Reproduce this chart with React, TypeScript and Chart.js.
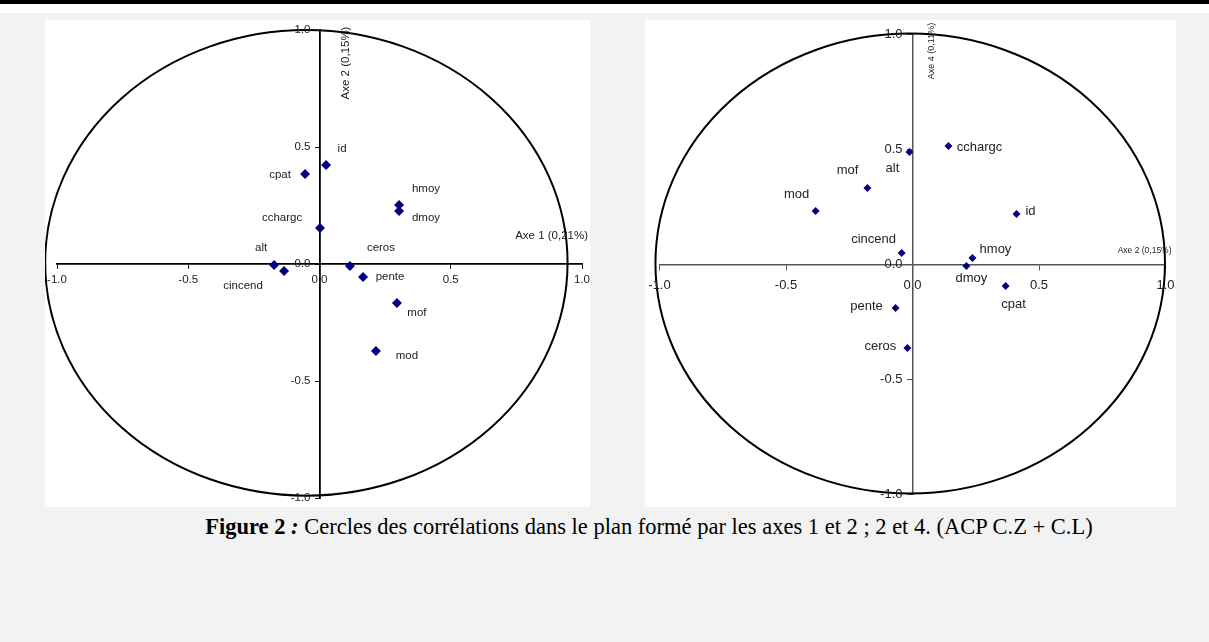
import React, { useEffect, useRef } from "react";
import { Chart, registerables } from "chart.js";

Chart.register(...registerables);

// ---------- data ----------
const TICK_VALUES = [-1, -0.5, 0, 0.5, 1];
const TICK_LABELS = ["-1.0", "-0.5", "0.0", "0.5", "1.0"];

const LEFT_VARIABLES = ["id", "cpat", "hmoy", "dmoy", "cchargc", "alt", "cincend", "ceros", "pente", "mof", "mod"];
const LEFT_AXE1 = [0.025, -0.055, 0.303, 0.303, 0.002, -0.173, -0.135, 0.116, 0.166, 0.295, 0.215];
const LEFT_AXE2 = [0.423, 0.385, 0.252, 0.226, 0.154, -0.004, -0.03, -0.009, -0.056, -0.167, -0.372];
const LEFT_X_TITLE = "Axe 1 (0,21%)";
const LEFT_Y_TITLE = "Axe 2 (0,15%)";

const RIGHT_VARIABLES = ["cchargc", "alt", "mof", "mod", "id", "cincend", "hmoy", "dmoy", "cpat", "pente", "ceros"];
const RIGHT_AXE2 = [0.142, -0.012, -0.178, -0.383, 0.411, -0.043, 0.237, 0.213, 0.368, -0.067, -0.02];
const RIGHT_AXE4 = [0.515, 0.489, 0.333, 0.233, 0.22, 0.05, 0.028, -0.007, -0.093, -0.189, -0.363];
const RIGHT_X_TITLE = "Axe 2 (0,15%)";
const RIGHT_Y_TITLE = "Axe 4 (0,11%)";

const CAPTION_BOLD = "Figure 2";
const CAPTION_REST = " Cercles des corrélations dans le plan formé par les axes 1 et 2 ; 2 et 4. (ACP C.Z + C.L)";

// ---------- layout / style (not data) ----------
const LEFT_LABEL_OFFSETS: Record<string, [number, number]> = {
  id: [16, -16], cpat: [-25, 1], hmoy: [27, -16], dmoy: [27, 7], cchargc: [-38, -10],
  alt: [-13, -17], cincend: [-41, 15], ceros: [31, -18], pente: [27, 0], mof: [20, 10], mod: [31, 5],
};
const RIGHT_LABEL_OFFSETS: Record<string, [number, number]> = {
  cchargc: [31, 1], alt: [-17, 16], mof: [-20, -17], mod: [-19, -16], id: [14, -2],
  cincend: [-28, -14], hmoy: [23, -9], dmoy: [5, 12], cpat: [8, 19], pente: [-29, -2], ceros: [-27, -2],
};

const SANS = "'Liberation Sans', Arial, sans-serif";
const MARKER = "#000080";

type PanelCfg = {
  names: string[]; xs: number[]; ys: number[];
  width: number; height: number;
  padding: { left: number; right: number; top: number; bottom: number };
  axisColor: string; axisWidth: number;
  tickSize: number; tickLength: number; xLabelDy: number; yLabelDx: number;
  pointRadius: number; labelSize: number;
  offsets: Record<string, [number, number]>;
  circle: { cx: number; cy: number; rx: number; ry: number; width: number };
  xTitle: { text: string; size: number; dx: number; dy: number; align: CanvasTextAlign };
  yTitle: { text: string; size: number; dx: number; dy: number };
};

const circlePlugin = {
  id: "corrCircle",
  beforeDatasetsDraw(chart: any, _a: any, o: any) {
    const { ctx } = chart;
    const x = chart.scales.x, y = chart.scales.y;
    const cx = x.getPixelForValue(o.cx), cy = y.getPixelForValue(o.cy);
    const rx = Math.abs(x.getPixelForValue(o.cx + o.rx) - cx);
    const ry = Math.abs(y.getPixelForValue(o.cy + o.ry) - cy);
    ctx.save();
    ctx.beginPath();
    ctx.ellipse(cx, cy, rx, ry, 0, 0, Math.PI * 2);
    ctx.lineWidth = o.width;
    ctx.strokeStyle = "#000";
    ctx.stroke();
    ctx.restore();
  },
};

// tick labels for both axes, drawn beside the axes crossing at the origin
const tickLabelPlugin = {
  id: "tickLabels",
  afterDraw(chart: any, _a: any, o: any) {
    const { ctx } = chart;
    const x = chart.scales.x, y = chart.scales.y;
    const x0 = x.getPixelForValue(0), y0 = y.getPixelForValue(0);
    ctx.save();
    ctx.font = `${o.size}px ${SANS}`;
    ctx.fillStyle = "#222";
    ctx.textBaseline = "middle";
    ctx.textAlign = "center";
    TICK_VALUES.forEach((v, i) => ctx.fillText(TICK_LABELS[i], x.getPixelForValue(v), y0 + o.xDy));
    ctx.textAlign = "right";
    TICK_VALUES.forEach((v, i) => ctx.fillText(TICK_LABELS[i], x0 - o.yDx, y.getPixelForValue(v)));
    ctx.restore();
  },
};

const labelPlugin = {
  id: "pointLabels",
  afterDatasetsDraw(chart: any, _a: any, o: any) {
    const { ctx } = chart;
    const meta = chart.getDatasetMeta(0);
    ctx.save();
    ctx.font = `${o.size}px ${SANS}`;
    ctx.fillStyle = "#222";
    ctx.textAlign = "center";
    ctx.textBaseline = "middle";
    meta.data.forEach((pt: any, i: number) => {
      const name = o.names[i];
      const off = o.offsets[name] || [0, 0];
      ctx.fillText(name, pt.x + off[0], pt.y + off[1]);
    });
    ctx.restore();
  },
};

const titlePlugin = {
  id: "axisTitles",
  afterDraw(chart: any, _a: any, o: any) {
    const { ctx } = chart;
    const x = chart.scales.x, y = chart.scales.y;
    const x0 = x.getPixelForValue(0), x1 = x.getPixelForValue(1);
    const y0 = y.getPixelForValue(0), y1 = y.getPixelForValue(1);
    ctx.save();
    ctx.fillStyle = "#222";
    ctx.textBaseline = "middle";
    ctx.font = `${o.xTitle.size}px ${SANS}`;
    ctx.textAlign = o.xTitle.align;
    ctx.fillText(o.xTitle.text, x1 + o.xTitle.dx, y0 + o.xTitle.dy);
    ctx.translate(x0 + o.yTitle.dx, y1 + o.yTitle.dy);
    ctx.rotate(-Math.PI / 2);
    ctx.font = `${o.yTitle.size}px ${SANS}`;
    ctx.textAlign = "center";
    ctx.fillText(o.yTitle.text, 0, 0);
    ctx.restore();
  },
};

function CorrCircle({ cfg }: { cfg: PanelCfg }) {
  const ref = useRef<HTMLCanvasElement | null>(null);
  useEffect(() => {
    if (!ref.current) return;
    const axis = (isX: boolean) => ({
      type: "linear" as const,
      min: -1,
      max: 1,
      position: isX ? { y: 0 } : { x: 0 },
      afterBuildTicks: (s: any) => {
        s.ticks = TICK_VALUES.map((v) => ({ value: v }));
      },
      ticks: { display: false },
      grid: {
        display: true,
        drawOnChartArea: false,
        drawTicks: true,
        tickLength: cfg.tickLength,
        color: cfg.axisColor,
        lineWidth: 1,
      },
      border: { display: true, color: cfg.axisColor, width: cfg.axisWidth },
    });
    const chart = new Chart(ref.current, {
      type: "scatter",
      data: {
        datasets: [
          {
            data: cfg.xs.map((v, i) => ({ x: v, y: cfg.ys[i] })),
            pointStyle: "rectRot",
            pointRadius: cfg.pointRadius,
            pointHoverRadius: cfg.pointRadius,
            backgroundColor: MARKER,
            borderColor: MARKER,
            borderWidth: 0,
          },
        ],
      },
      options: {
        animation: false,
        responsive: false,
        devicePixelRatio: 1,
        layout: { padding: cfg.padding },
        scales: { x: axis(true), y: axis(false) } as any,
        plugins: {
          legend: { display: false },
          tooltip: { enabled: false },
          corrCircle: cfg.circle,
          tickLabels: { size: cfg.tickSize, xDy: cfg.xLabelDy, yDx: cfg.yLabelDx },
          pointLabels: { names: cfg.names, offsets: cfg.offsets, size: cfg.labelSize },
          axisTitles: { xTitle: cfg.xTitle, yTitle: cfg.yTitle },
        } as any,
      },
      plugins: [circlePlugin, tickLabelPlugin, labelPlugin, titlePlugin],
    });
    return () => chart.destroy();
  }, [cfg]);
  return (
    <canvas
      ref={ref}
      width={cfg.width}
      height={cfg.height}
      style={{ width: cfg.width, height: cfg.height, display: "block" }}
    />
  );
}

const LEFT_CFG: PanelCfg = {
  names: LEFT_VARIABLES, xs: LEFT_AXE1, ys: LEFT_AXE2,
  width: 545, height: 487,
  padding: { left: 12, right: 8, top: 10, bottom: 9 },
  axisColor: "#000", axisWidth: 1.8,
  tickSize: 11.5, tickLength: 4, xLabelDy: 16, yLabelDx: 9,
  pointRadius: 5, labelSize: 11.5,
  offsets: LEFT_LABEL_OFFSETS,
  circle: { cx: -0.05, cy: 0.005, rx: 0.995, ry: 0.995, width: 2 },
  xTitle: { text: LEFT_X_TITLE, size: 11.5, dx: 6, dy: -28, align: "right" },
  yTitle: { text: LEFT_Y_TITLE, size: 11.5, dx: 26, dy: 33 },
};

const RIGHT_CFG: PanelCfg = {
  names: RIGHT_VARIABLES, xs: RIGHT_AXE2, ys: RIGHT_AXE4,
  width: 531, height: 487,
  padding: { left: 14.5, right: 10.5, top: 14.5, bottom: 12.5 },
  axisColor: "#555", axisWidth: 1.5,
  tickSize: 13, tickLength: 5, xLabelDy: 21, yLabelDx: 10,
  pointRadius: 4, labelSize: 13,
  offsets: RIGHT_LABEL_OFFSETS,
  circle: { cx: -0.009, cy: 0.004, rx: 1.007, ry: 1.0, width: 2 },
  xTitle: { text: RIGHT_X_TITLE, size: 8.5, dx: 6, dy: -14, align: "right" },
  yTitle: { text: RIGHT_Y_TITLE, size: 9, dx: 19, dy: 16.5 },
};

export default function App() {
  useEffect(() => {
    document.body.style.margin = "0";
  }, []);
  return (
    <div style={{ position: "fixed", left: 0, top: 0, width: 1209, height: 642, background: "#f2f2f2", overflow: "hidden" }}>
      <div style={{ position: "absolute", left: 0, top: 0, width: 1209, height: 13, background: "#fff" }} />
      <div style={{ position: "absolute", left: 0, top: 0, width: 1209, height: 4, background: "#000" }} />
      <div style={{ position: "absolute", left: 45, top: 20, width: 545, height: 487, background: "#fff" }}>
        <CorrCircle cfg={LEFT_CFG} />
      </div>
      <div style={{ position: "absolute", left: 645, top: 20, width: 531, height: 487, background: "#fff" }}>
        <CorrCircle cfg={RIGHT_CFG} />
      </div>
      <div
        style={{
          position: "absolute",
          left: 649,
          top: 514,
          transform: "translateX(-50%)",
          whiteSpace: "nowrap",
          fontFamily: "'Liberation Serif', 'Times New Roman', serif",
          fontSize: 22.5,
          color: "#000",
        }}
      >
        <b>
          {CAPTION_BOLD} <i>:</i>
        </b>
        {CAPTION_REST}
      </div>
    </div>
  );
}
